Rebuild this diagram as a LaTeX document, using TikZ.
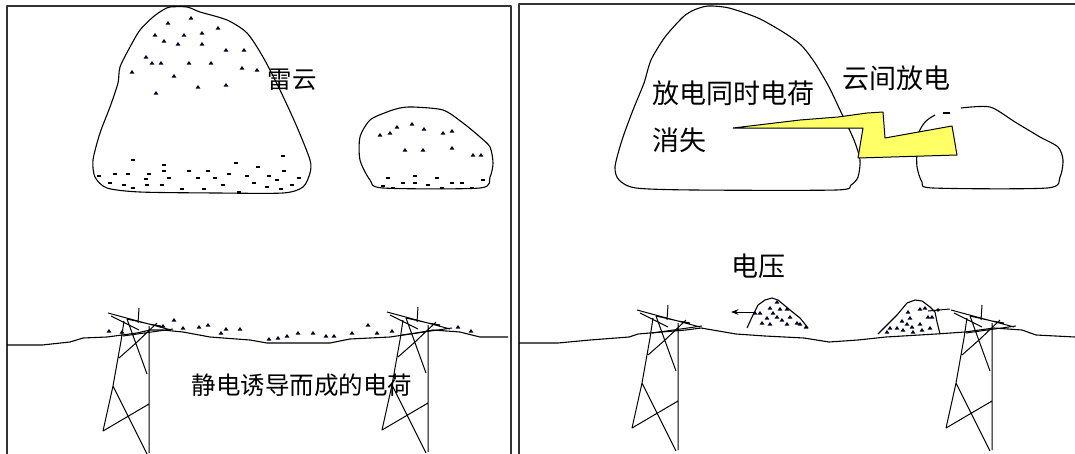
\documentclass[tikz,border=0pt]{standalone}
\usepackage{fontspec}
\newfontfamily\cjkfont{Noto Sans CJK SC}
\usetikzlibrary{arrows.meta}
\definecolor{boltyellow}{RGB}{255,255,102}

\begin{document}
\begin{tikzpicture}[
    x=1pt, y=-1pt,
    line join=round,
    >=Stealth,
    frame/.style={draw=black!80, line width=1.6pt},
    outline/.style={draw, line width=1.1pt},
    wire/.style={draw, line width=1.1pt},
    label_cn/.style={font=\cjkfont\fontsize{24.5}{28}\selectfont, inner sep=0pt},
    label_big/.style={font=\cjkfont\fontsize{27}{31}\selectfont, inner sep=0pt},
    plus/.pic={\fill[black!85!blue] (-2.4,1.5) -- (0,-2.1) -- (2.4,1.5) -- cycle;},
    minus/.pic={\draw[line width=1.3pt] (-2.3,0) -- (2.3,0);},
    pylon/.pic={
        \draw[line width=1pt]
            (0,0) -- (0,127)
            (-10,-18) -- (-11,-3)
            (-41,-13) -- (22,4)
            (-38,-10) -- (-10,4)
            (-22,-7) -- (0,-2) -- (12,0)
            (-26,10) -- (24,3)
            (-25,-5) -- (-28,15) -- (-36,60) -- (-46,105) -- (0,78)
            (-36,60) -- (-2,128)
            (-22,-7) -- (-2,48)
            (-13,17) -- (-30,32)
            (-13,17) -- (8,-3);
    }
]
    \useasboundingbox (0,0) rectangle (1075,453);
    \clip (0,0) rectangle (1075,453);

    % === 1. Charged clouds over the line ===
    \draw[frame] (7,470) -- (7,6) -- (511,6) -- (511,470);

    % Thundercloud
    \draw[outline] plot[smooth cycle, tension=0.45] coordinates {
        (170,7) (187,7) (200,12) (227,20) (247,33) (263,57) (280,90)
        (297,127) (310,160) (310,173) (303,187) (283,193) (217,193)
        (140,192) (107,188) (95,177) (93,160) (100,133) (110,107)
        (118,83) (120,67) (130,47) (140,30) (153,17) (163,10)};
    \draw[outline] plot[smooth cycle, tension=0.45] coordinates {
        (413,107) (443,110) (463,123) (480,137) (490,147) (493,163)
        (490,177) (480,188) (383,188) (370,180) (360,160) (360,137)
        (370,120) (387,112) (400,108)};

    % Charges in the clouds
    \foreach \x/\y in {168/23, 191/18, 155/35, 164/41, 178/44, 184/35, 202/33,
        202/44, 218/28, 226/50, 244/50, 146/57, 152/63, 161/63, 189/63, 211/63,
        242/68, 257/70, 132/72, 174/76, 198/87, 226/85, 156/93,
        380/135, 390/133, 397/127, 412/124, 424/129, 443/133, 452/131,
        405/150, 423/150, 452/148, 473/155, 481/155}
        \pic at (\x,\y) {plus};
    \foreach \x/\y in {133/160, 283/156, 164/165, 236/163, 258/167, 164/171,
        189/171, 208/171, 284/171, 99/176, 115/174, 128/174, 149/174, 169/178,
        198/178, 215/178, 229/174, 247/176, 269/176, 299/178, 146/179, 110/183,
        124/185, 133/188, 147/185, 162/185, 182/189, 204/189, 223/185, 239/192,
        254/183, 267/187, 281/189, 292/185, 277/180,
        388/178, 415/176, 437/178, 403/183, 415/183, 428/185, 452/183, 462/183,
        383/186, 393/188, 442/188, 472/188, 483/180}
        \pic at (\x,\y) {minus};

    % Line and towers
    \draw[wire] (7,345) -- (42,345) -- (70,342) -- (83,338) -- (107,337)
        -- (137,333) -- (150,330) -- (163,330) -- (183,332) -- (210,337)
        -- (250,340) -- (267,343) -- (330,343) -- (350,339) -- (390,337)
        -- (417,333) -- (433,330) -- (460,332) -- (480,337) -- (508,337);
    \pic at (149,326) {pylon};
    \pic at (428,325) {pylon};

    % Induced charges on the line
    \foreach \x/\y in {109/331, 122/332, 163/326, 174/320, 183/328, 199/327,
        208/325, 221/333, 226/329, 240/329, 269/339, 278/338, 287/336, 298/333,
        313/333, 326/336, 334/336, 352/333, 368/325, 377/333, 392/331,
        458/327, 471/331}
        \pic at (\x,\y) {plus};

    % Labels
    \node[label_cn] (lblCloud) at (292,80) {雷云};
    \node[label_cn] (lblInduced) at (302,385) {静电诱导而成的电荷};


    % === 2. Discharge between the clouds ===
    \draw[frame] (519,470) -- (519,4) -- (1080,4);

    \draw[outline] plot[smooth cycle, tension=0.45] coordinates {
        (708,6) (729,8) (758,18) (783,32) (801,45) (815,63) (829,87)
        (840,110) (854,140) (860,160) (858,177) (851,185) (836,190)
        (694,190) (636,188) (619,180) (615,167) (622,140) (633,110)
        (644,83) (651,60) (665,37) (683,17) (694,10)};
    \draw[outline] plot[smooth, tension=0.45] coordinates {
        (961,108) (990,107) (1015,122) (1040,137) (1058,147) (1063,160)
        (1060,177) (1047,188) (933,188) (922,182) (917,167) (917,150)
        (919,132) (926,121) (935,115)};
    \draw[line width=1.2pt] (943,113) -- (950,113);

    % Lightning bolt
    \filldraw[fill=boltyellow, line width=1pt]
        (733,128) -- (800,120) -- (838,117) -- (867,113) -- (883,112)
        -- (885,138) -- (952,126) -- (957,155) -- (858,158) -- (863,128)
        -- (800,128) -- cycle;

    \node[label_big, anchor=west] (lblVanish) at (652,93) {放电同时电荷};
    \node[label_big, anchor=west] (lblVanishB) at (652,140) {消失};
    \node[label_big, anchor=west] (lblInterCloud) at (842,78) {云间放电};

    % Line, towers and the travelling charge heaps
    \draw[wire] (519,343) -- (558,343) -- (590,340) -- (629,337) -- (638,334)
        -- (686,330) -- (701,328) -- (736,334) -- (765,336) -- (804,338)
        -- (829,342) -- (858,340) -- (886,337) -- (936,334) -- (965,332)
        -- (994,328) -- (1022,330) -- (1036,335) -- (1075,337);
    \pic at (678,323) {pylon};
    \pic at (992,323) {pylon};

    \draw[outline] (747,328) -- (752,317) -- (758,305) -- (765,300) -- (772,298)
        -- (778,300) -- (790,310) -- (800,318) -- (808,328);
    \draw[outline] (878,334) -- (887,325) -- (897,315) -- (907,303) -- (915,300)
        -- (922,301) -- (930,307) -- (935,312) -- (937,322) -- (940,334);
    \foreach \x/\y in {777/302, 770/308, 780/309, 787/309, 760/313, 773/313,
        777/317, 767/318, 782/320, 762/323, 770/324, 787/324, 797/323, 800/324,
        806/327, 790/317, 755/313,
        920/309, 925/308, 928/317, 932/317, 908/312, 910/318, 902/321, 907/324,
        920/324, 897/328, 903/330, 913/332, 922/330, 930/328, 887/332, 890/328,
        912/327}
        \pic at (\x,\y) {plus};

    % Direction of travel
    \draw[line width=1pt, ->] (755,312) -- (731,312);
    \draw[line width=1pt] (928,311) -- (950,309);
    \fill (938,310) circle (1.8);

    \node[label_big] (lblVoltage) at (758,266) {电压};

\end{tikzpicture}
\end{document}
